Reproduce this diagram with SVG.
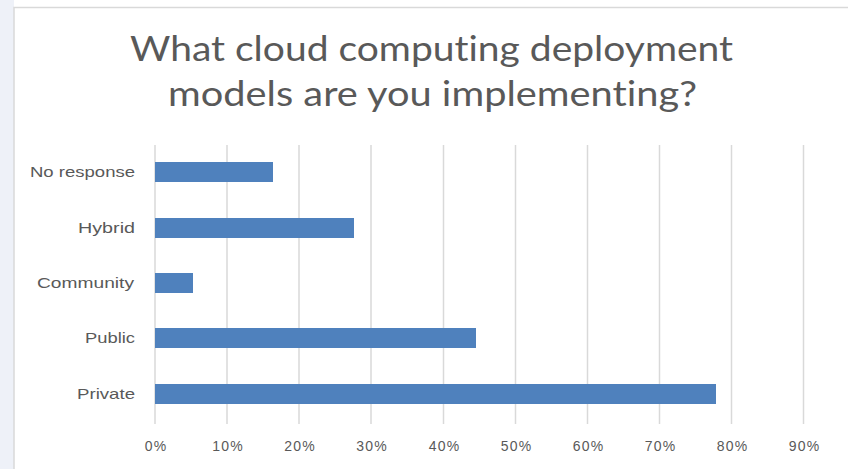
<svg xmlns="http://www.w3.org/2000/svg" width="848" height="469" viewBox="0 0 848 469">
<style>
.t{font-family:"Liberation Sans",Arial,sans-serif;fill:#595959}
.cat{font-size:15px;text-anchor:end}
.ax{font-size:14px;text-anchor:middle;letter-spacing:1.2px}
.title{font-family:Lato,"Liberation Sans",sans-serif;font-size:34px;font-variant-ligatures:none;font-feature-settings:"liga" 0,"clig" 0}
.grid{stroke:#d9d9d9;stroke-width:1.5}
.bar{fill:#4f81bd}
</style>
<rect x="0" y="0" width="848" height="469" fill="#ffffff"/>
<rect x="0" y="0" width="14" height="469" fill="#eef1f8"/>
<rect x="14" y="7.5" width="840" height="470" fill="#ffffff" stroke="#d9d9d9" stroke-width="1.5"/>
<g id="title">
<text class="t title" x="130" y="61" textLength="603" lengthAdjust="spacingAndGlyphs">What cloud computing deployment</text>
<text class="t title" x="168" y="106" textLength="529" lengthAdjust="spacingAndGlyphs">models are you implementing?</text>
</g>
<g id="gridlines">
<line class="grid" x1="155" y1="145" x2="155" y2="424"/>
<line class="grid" x1="227" y1="145" x2="227" y2="424"/>
<line class="grid" x1="299" y1="145" x2="299" y2="424"/>
<line class="grid" x1="371" y1="145" x2="371" y2="424"/>
<line class="grid" x1="443.5" y1="145" x2="443.5" y2="424"/>
<line class="grid" x1="515.5" y1="145" x2="515.5" y2="424"/>
<line class="grid" x1="587.5" y1="145" x2="587.5" y2="424"/>
<line class="grid" x1="659.5" y1="145" x2="659.5" y2="424"/>
<line class="grid" x1="731.5" y1="145" x2="731.5" y2="424"/>
<line class="grid" x1="803.5" y1="145" x2="803.5" y2="424"/>
</g>
<g id="axis-labels">
<text class="t ax" x="156" y="451">0%</text>
<text class="t ax" x="228" y="451">10%</text>
<text class="t ax" x="300" y="451">20%</text>
<text class="t ax" x="372" y="451">30%</text>
<text class="t ax" x="444.5" y="451">40%</text>
<text class="t ax" x="516.5" y="451">50%</text>
<text class="t ax" x="588.5" y="451">60%</text>
<text class="t ax" x="660.5" y="451">70%</text>
<text class="t ax" x="732.5" y="451">80%</text>
<text class="t ax" x="804.5" y="451">90%</text>
</g>
<g id="no-response">
<rect class="bar" x="155" y="162" width="118" height="20"/>
<text class="t cat" x="135" y="177" textLength="105" lengthAdjust="spacingAndGlyphs">No response</text>
</g>
<g id="hybrid">
<rect class="bar" x="155" y="218" width="199" height="20"/>
<text class="t cat" x="135" y="233" textLength="57" lengthAdjust="spacingAndGlyphs">Hybrid</text>
</g>
<g id="community">
<rect class="bar" x="155" y="273" width="38" height="20"/>
<text class="t cat" x="134" y="288" textLength="97" lengthAdjust="spacingAndGlyphs">Community</text>
</g>
<g id="public">
<rect class="bar" x="155" y="328" width="321" height="20"/>
<text class="t cat" x="135" y="343" textLength="50" lengthAdjust="spacingAndGlyphs">Public</text>
</g>
<g id="private">
<rect class="bar" x="155" y="384" width="561" height="20"/>
<text class="t cat" x="135" y="399" textLength="58" lengthAdjust="spacingAndGlyphs">Private</text>
</g>
</svg>
